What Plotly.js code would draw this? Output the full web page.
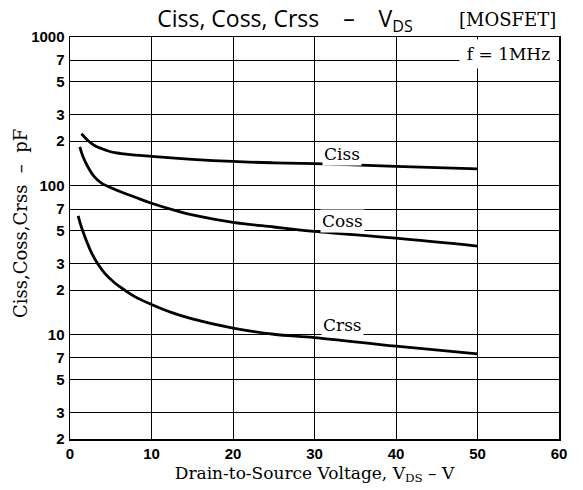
<!DOCTYPE html>
<html>
<head>
<meta charset="utf-8">
<script src="https://cdn.plot.ly/plotly-3.0.1.min.js"></script>
<style>html,body{margin:0;padding:0;background:#fff;}#chart{width:583px;height:490px;}</style>
</head>
<body>
<div id="chart"></div>
<script>
// Drain-to-source voltage (V) sample points for each curve
const vdsCiss = [1.4, 2.2, 3, 3.9, 5.1, 6.3, 8, 10, 15, 20, 25, 30, 40, 50];
const ciss    = [224, 202, 187, 178, 169, 165, 161, 158, 151, 146, 143, 141, 135.5, 130];

const vdsCoss = [1.2, 1.6, 2.2, 3, 3.9, 5.1, 6.3, 8, 10, 13.3, 15, 20, 25, 30, 40, 50];
const coss    = [183, 157, 134, 115, 104, 97, 91, 84, 76.5, 67.5, 64, 57, 53, 49.5, 44.6, 39.5];

const vdsCrss = [1.0, 1.4, 2, 2.6, 3.4, 4.3, 5.5, 6.7, 8, 10, 12.5, 15, 20, 25, 30, 40, 50];
const crss    = [63, 53, 43, 36, 30, 25.8, 22.3, 20, 18, 16, 14.1, 12.8, 11.1, 10.1, 9.6, 8.4, 7.45];

const xTicks = [0, 10, 20, 30, 40, 50, 60];
const yTickVals = [2, 3, 5, 7, 10, 20, 30, 50, 70, 100, 200, 300, 500, 700, 1000];
const yTickText = ['2', '3', '5', '7', '10', '2', '3', '5', '7', '100', '2', '3', '5', '7', '1000'];

const seriesNames = ['Ciss', 'Coss', 'Crss'];
const labelX = [33.4, 33.4, 33.4];
const labelY = [164, 58.2, 11.7];

const lineStyle = {color: '#000', width: 2.8, shape: 'spline', smoothing: 1};
const traces = [
  {x: vdsCiss, y: ciss, name: 'Ciss', mode: 'lines', line: lineStyle},
  {x: vdsCoss, y: coss, name: 'Coss', mode: 'lines', line: lineStyle},
  {x: vdsCrss, y: crss, name: 'Crss', mode: 'lines', line: lineStyle}
];

const serif = 'DejaVu Serif, Liberation Serif, serif';
const tickFont = {family: 'Liberation Sans, Arial, sans-serif', size: 15, color: '#000'};
const annotations = seriesNames.map((n, i) => ({
  text: n, xref: 'x', yref: 'y', x: labelX[i], y: Math.log10(labelY[i]),
  showarrow: false, bgcolor: '#fff', borderpad: 1,
  font: {family: serif, size: 17, color: '#000'}
}));
annotations.push({
  text: 'f = 1MHz', xref: 'paper', yref: 'paper', x: 1, y: 1,
  xanchor: 'right', yanchor: 'top', xshift: -1.5, yshift: -1.5,
  width: 97, height: 28, borderpad: 0, bgcolor: '#fff', showarrow: false,
  font: {family: serif, size: 17, color: '#000'}
});
annotations.push({
  text: '[MOSFET]', xref: 'paper', yref: 'paper', x: (507 - 70) / 489, y: (439 - 20) / 402,
  xanchor: 'center', yanchor: 'middle', showarrow: false,
  font: {family: serif, size: 18, color: '#000'}
});
annotations.push({
  text: 'Ciss,Coss,Crss\u00a0 –\u00a0 pF', xref: 'paper', yref: 'paper',
  x: (20 - 70) / 489, y: (439 - 224) / 402, textangle: -90,
  xanchor: 'center', yanchor: 'middle', showarrow: false,
  font: {family: serif, size: 18, color: '#000'}
});

const layout = {
  width: 583, height: 490,
  margin: {l: 70, r: 24, t: 37, b: 51},
  paper_bgcolor: '#fff', plot_bgcolor: '#fff',
  showlegend: false,
  title: {
    text: 'Ciss, Coss, Crss\u00a0\u00a0\u00a0 –\u00a0\u00a0\u00a0 V<sub>DS</sub>',
    font: {family: 'Open Sans, Noto Sans, sans-serif', size: 23, color: '#000'},
    xref: 'container', yref: 'container', x: 285 / 583, xanchor: 'center',
    y: 1 - 19 / 490, yanchor: 'middle'
  },
  xaxis: {
    range: [0, 60], tickvals: xTicks, ticktext: xTicks.map(v => '<b>' + v + '</b>'),
    showgrid: true, gridcolor: '#000', gridwidth: 1, zeroline: false,
    showline: true, mirror: true, linecolor: '#000', linewidth: 1.5,
    ticks: '', tickfont: tickFont,
    title: {text: 'Drain-to-Source Voltage, V<sub>DS</sub> – V', standoff: 6,
            font: {family: serif, size: 17, color: '#000'}}
  },
  yaxis: {
    type: 'log', range: [Math.log10(2), 3],
    tickvals: yTickVals, ticktext: yTickText.map(t => '<b>' + t + '</b>'),
    showgrid: true, gridcolor: '#000', gridwidth: 1, zeroline: false,
    showline: true, mirror: true, linecolor: '#000', linewidth: 1.5,
    ticks: '', ticklabelstandoff: 1,
    tickfont: tickFont
  },
  annotations: annotations
};

Plotly.newPlot('chart', traces, layout, {staticPlot: true, displayModeBar: false});
</script>
</body>
</html>
